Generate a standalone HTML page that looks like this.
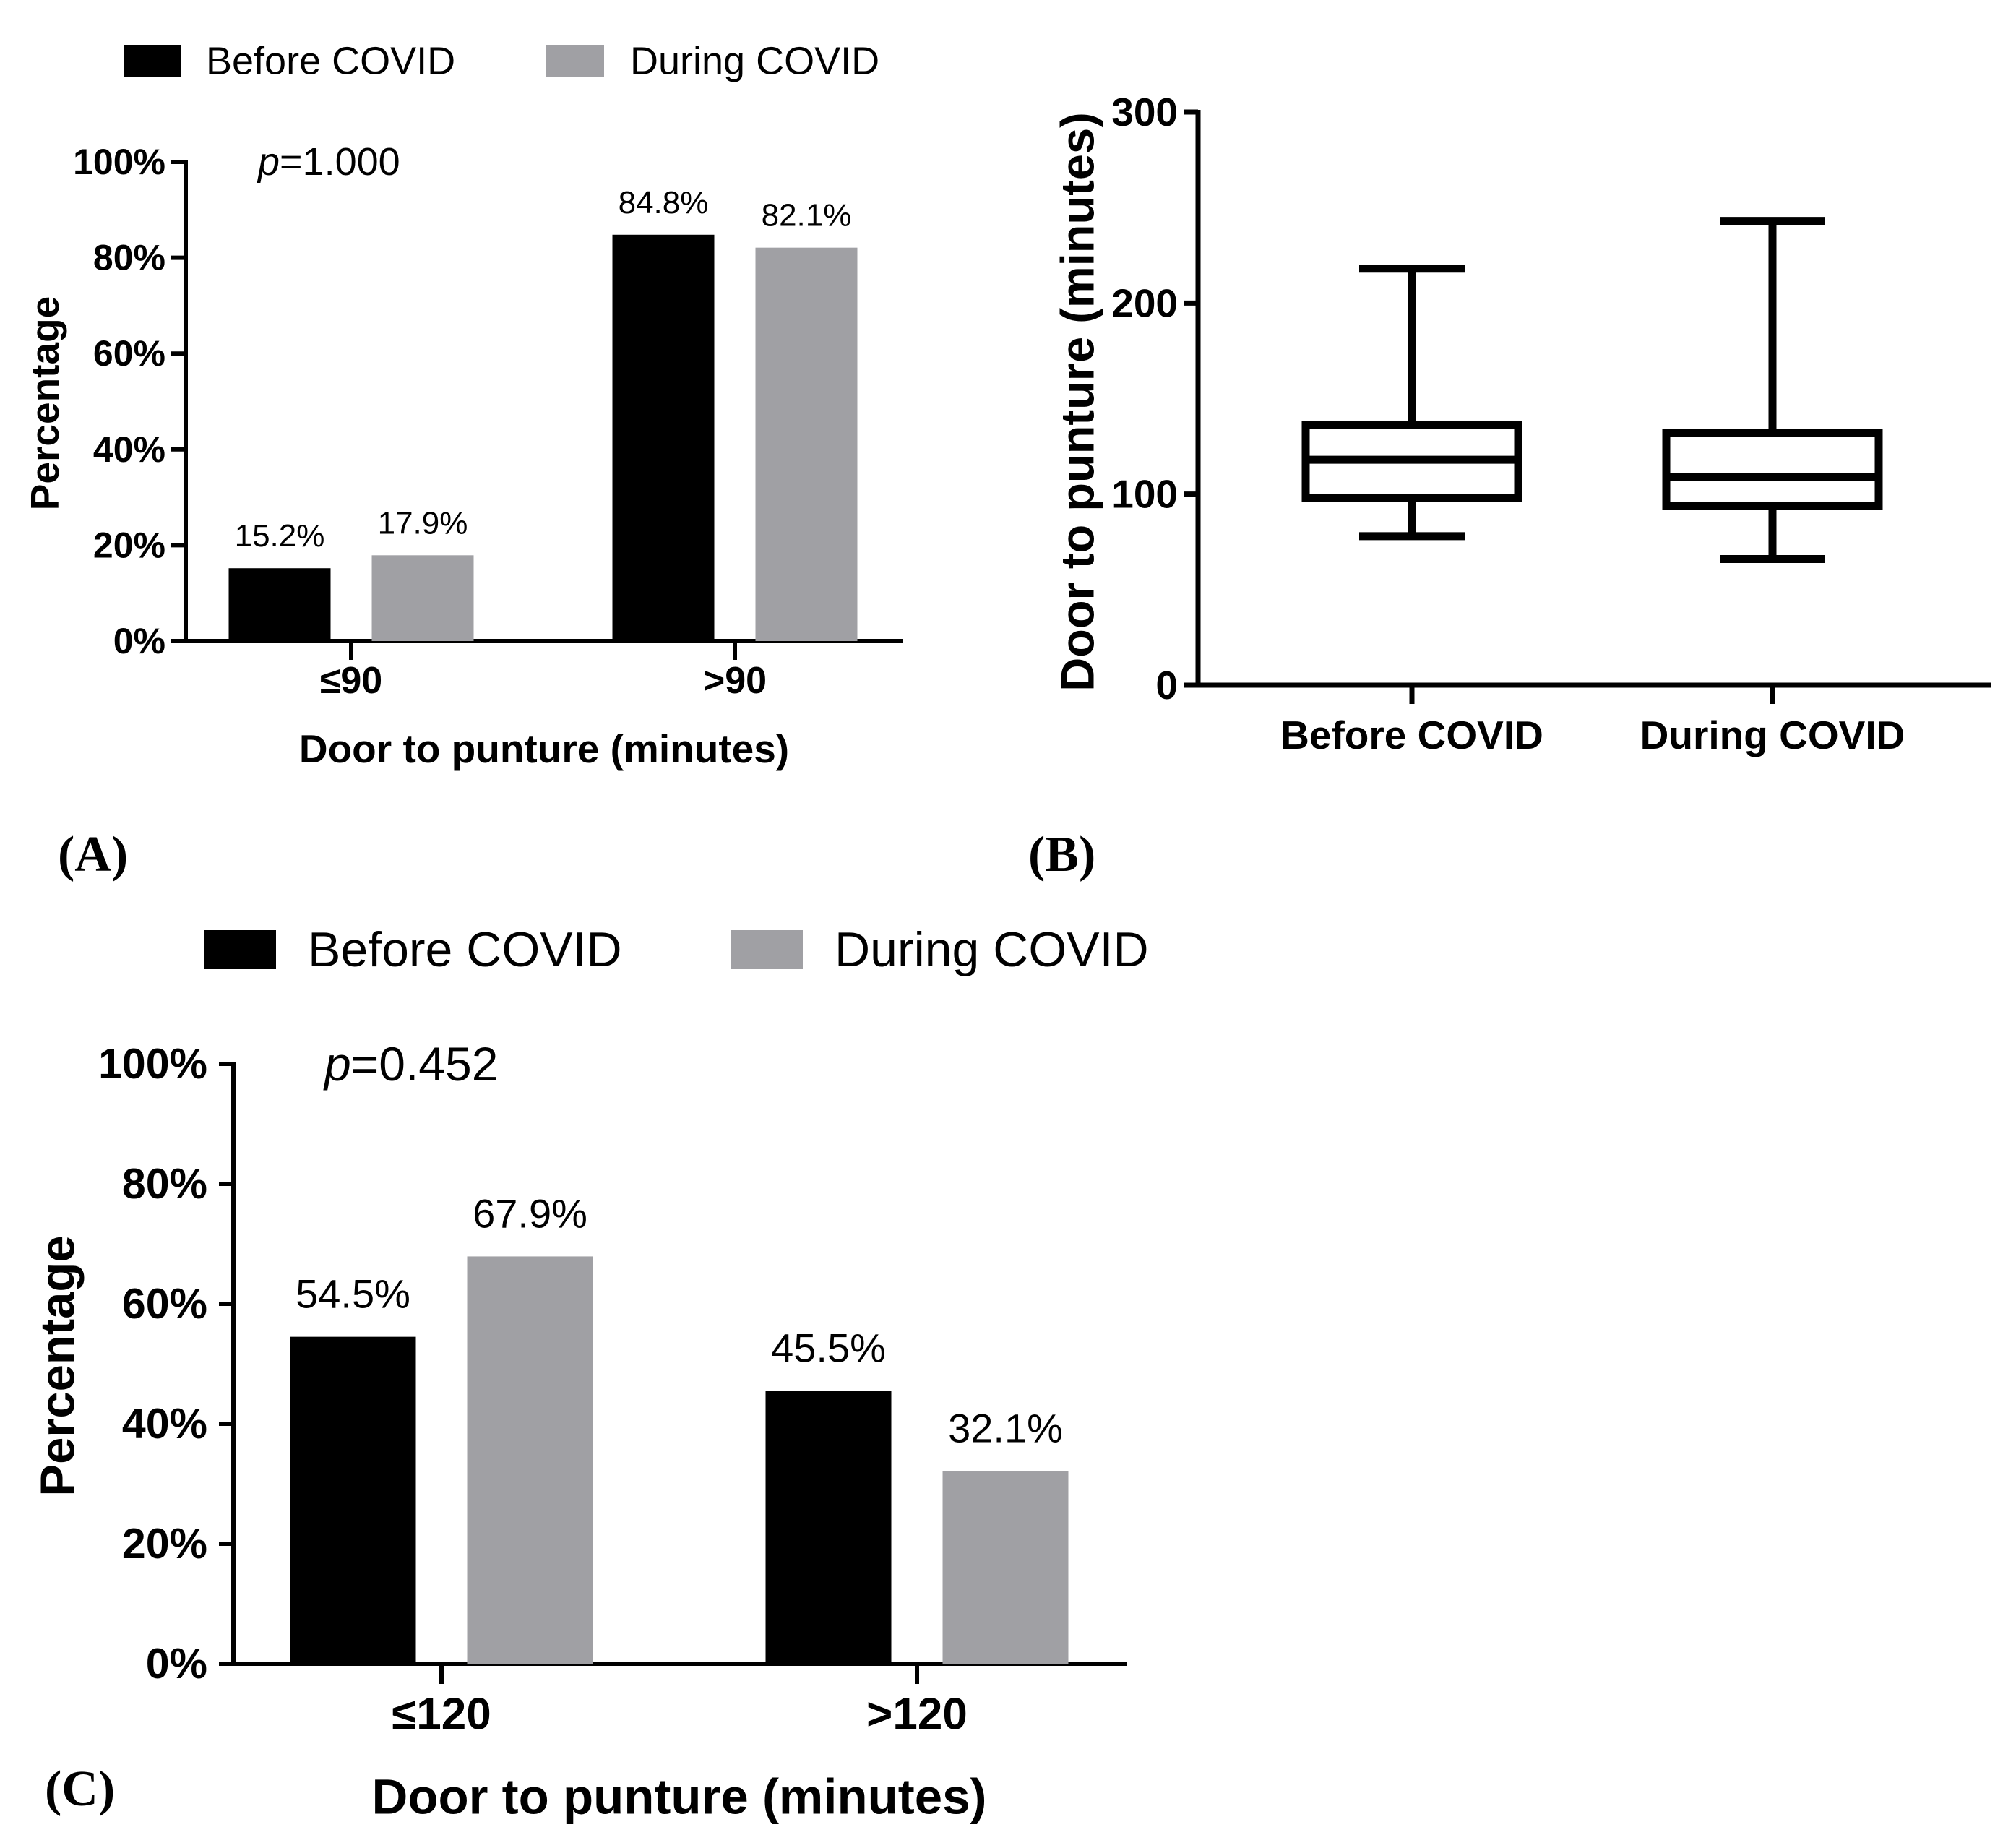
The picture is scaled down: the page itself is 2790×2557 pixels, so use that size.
<!DOCTYPE html>
<html><head><meta charset="utf-8"><style>
html,body{margin:0;padding:0;background:#fff}
svg{display:block}
text{font-family:"Liberation Sans",Arial,sans-serif;fill:#000}
.b{font-weight:bold}
.s{font-family:"Liberation Serif",serif;font-weight:bold}
</style></head><body>
<svg id="fig" width="2790" height="2557" viewBox="0 0 2790 2557" xmlns="http://www.w3.org/2000/svg">
<g id="pa"></g>
<g id="pb"></g>
<g id="pc"></g>
<text class="s" x="80" y="1205" font-size="70">(A)</text>
<text class="s" x="1423" y="1205" font-size="70">(B)</text>
<text class="s" x="62" y="2498" font-size="70">(C)</text>
</svg>
<script>
const NS="http://www.w3.org/2000/svg";
const seriesNames=["Before COVID","During COVID"];
const seriesColors=["#000000","#a0a0a4"];
const pctTicks=[0,20,40,60,80,100];
const catsA=["≤90",">90"];
const beforeA=[15.2,84.8];
const duringA=[17.9,82.1];
const catsC=["≤120",">120"];
const beforeC=[54.5,45.5];
const duringC=[67.9,32.1];
const boxCats=["Before COVID","During COVID"];
const boxMin=[78,66];
const boxQ1=[98,94];
const boxMed=[118,109];
const boxQ3=[136,132];
const boxMax=[218,243];
const boxTicks=[0,100,200,300];

function el(p,t,a,txt){const e=document.createElementNS(NS,t);for(const k in a)e.setAttribute(k,a[k]);if(txt!==undefined)e.textContent=txt;p.appendChild(e);return e;}

function barPanel(g,o){
  const y=v=>o.y0-(v/100)*(o.y0-o.y100);
  for(let i=0;i<2;i++){
    const r=el(g,'rect',{x:o.leg[i][0],y:o.legY,width:o.legW,height:o.legH,fill:seriesColors[i]});
    
    
    const t=el(g,'text',{x:o.leg[i][1],y:o.legY+o.legH/2,'font-size':o.legF,'dominant-baseline':'central'},seriesNames[i]);
    
    
  }
  const ya=el(g,'line',{x1:o.ax,y1:o.y100-3,x2:o.ax,y2:o.y0+3,stroke:'#000','stroke-width':6});
  
  
  const xa=el(g,'line',{x1:o.ax-3,y1:o.y0,x2:o.axEnd,y2:o.y0,stroke:'#000','stroke-width':6});
  
  
  pctTicks.forEach(v=>{
    el(g,'line',{x1:o.ax-20,y1:y(v),x2:o.ax,y2:y(v),stroke:'#000','stroke-width':6});
    const t=el(g,'text',{class:'b',x:o.ax-o.tickGap,y:y(v),'font-size':o.tickF,'text-anchor':'end','dominant-baseline':'central'},v+'%');
    
    
  });
  o.cats.forEach((c,i)=>{
    const cx=o.cx[i];
    el(g,'line',{x1:cx,y1:o.y0,x2:cx,y2:o.y0+o.tickLen,stroke:'#000','stroke-width':6});
    const t=el(g,'text',{class:'b',x:cx,y:o.catY,'font-size':o.catF,'text-anchor':'middle','dominant-baseline':'central'},c);
    
    
    [o.before[i],o.during[i]].forEach((v,s)=>{
      const x=cx+(s===0?-o.gap/2-o.bw:o.gap/2);
      const r=el(g,'rect',{x:x,y:y(v),width:o.bw,height:o.y0-y(v),fill:seriesColors[s]});
      
      
      const l=el(g,'text',{x:x+o.bw/2,y:y(v)-o.valOff,'font-size':o.valF,'text-anchor':'middle'},v.toFixed(1)+'%');
      
      
    });
  });
  const p=el(g,'text',{x:o.pX,y:o.y100,'font-size':o.pF,'dominant-baseline':'central'});
  
  
  el(p,'tspan',{'font-style':'italic'},'p');
  el(p,'tspan',{},o.pTxt);
  const xt=el(g,'text',{class:'b',x:o.xtX,y:o.xtY,'font-size':o.xtF,'text-anchor':'middle','dominant-baseline':'central'},'Door to punture (minutes)');
  
  
  const yt=el(g,'text',{class:'b',x:0,y:0,'font-size':o.ytF,'text-anchor':'middle','dominant-baseline':'central',transform:`translate(${o.ytX},${o.ytY}) rotate(-90)`},'Percentage');
  
  
}

barPanel(document.getElementById('pa'),{
  leg:[[171,285],[756,872]],legY:62,legW:80,legH:45,legF:54,
  ax:257,axEnd:1250,y0:887,y100:224,tickF:50,tickGap:28,
  cats:catsA,before:beforeA,during:duringA,cx:[486,1017],bw:141,gap:57,tickLen:26,
  catY:942,catF:52,valF:44,valOff:30,pX:357,pF:54,pTxt:'=1.000',
  xtX:753,xtY:1036,xtF:55,ytX:62,ytY:558,ytF:55
});
barPanel(document.getElementById('pc'),{
  leg:[[282,426],[1011,1155]],legY:1287,legW:100,legH:54,legF:68,
  ax:323,axEnd:1560,y0:2302,y100:1472,tickF:59,tickGap:36,
  cats:catsC,before:beforeC,during:duringC,cx:[611,1269],bw:174,gap:71,tickLen:28,
  catY:2372,catF:62,valF:56,valOff:40,pX:449,pF:66,pTxt:'=0.452',
  xtX:940,xtY:2486,xtF:69,ytX:80,ytY:1890,ytF:67
});

(function(){
  const g=document.getElementById('pb');
  const ax=1658,y0=948,y300=155;
  const y=v=>y0-(v/300)*(y0-y300);
  const cx=[1954,2453],bw=294,cw=146,sw=11;
  const ya=el(g,'line',{x1:ax,y1:y300-3,x2:ax,y2:y0+3,stroke:'#000','stroke-width':7});
  
  
  const xa=el(g,'line',{x1:ax-3,y1:y0,x2:2755,y2:y0,stroke:'#000','stroke-width':7});
  
  
  boxTicks.forEach(v=>{
    el(g,'line',{x1:ax-20,y1:y(v),x2:ax,y2:y(v),stroke:'#000','stroke-width':7});
    const t=el(g,'text',{class:'b',x:ax-28,y:y(v),'font-size':55,'text-anchor':'end','dominant-baseline':'central'},String(v));
    
    
  });
  boxCats.forEach((c,i)=>{
    const x=cx[i];
    el(g,'line',{x1:x,y1:y0,x2:x,y2:y0+26,stroke:'#000','stroke-width':7});
    const t=el(g,'text',{class:'b',x:x,y:1017,'font-size':55,'text-anchor':'middle','dominant-baseline':'central'},c);
    
    
    const bx=el(g,'g',{});
    
    
    const st={stroke:'#000','stroke-width':sw,fill:'none'};
    el(bx,'line',Object.assign({x1:x,y1:y(boxMax[i]),x2:x,y2:y(boxQ3[i])},st));
    el(bx,'line',Object.assign({x1:x,y1:y(boxQ1[i]),x2:x,y2:y(boxMin[i])},st));
    el(bx,'line',Object.assign({x1:x-cw/2,y1:y(boxMax[i]),x2:x+cw/2,y2:y(boxMax[i])},st));
    el(bx,'line',Object.assign({x1:x-cw/2,y1:y(boxMin[i]),x2:x+cw/2,y2:y(boxMin[i])},st));
    el(bx,'rect',Object.assign({x:x-bw/2,y:y(boxQ3[i]),width:bw,height:y(boxQ1[i])-y(boxQ3[i])},st));
    el(bx,'line',Object.assign({x1:x-bw/2,y1:y(boxMed[i]),x2:x+bw/2,y2:y(boxMed[i])},st));
  });
  const yt=el(g,'text',{class:'b',x:0,y:0,'font-size':65,'text-anchor':'middle','dominant-baseline':'central',transform:'translate(1491,556) rotate(-90)'},'Door to punture (minutes)');
  
  
})();
</script>
</body></html>
